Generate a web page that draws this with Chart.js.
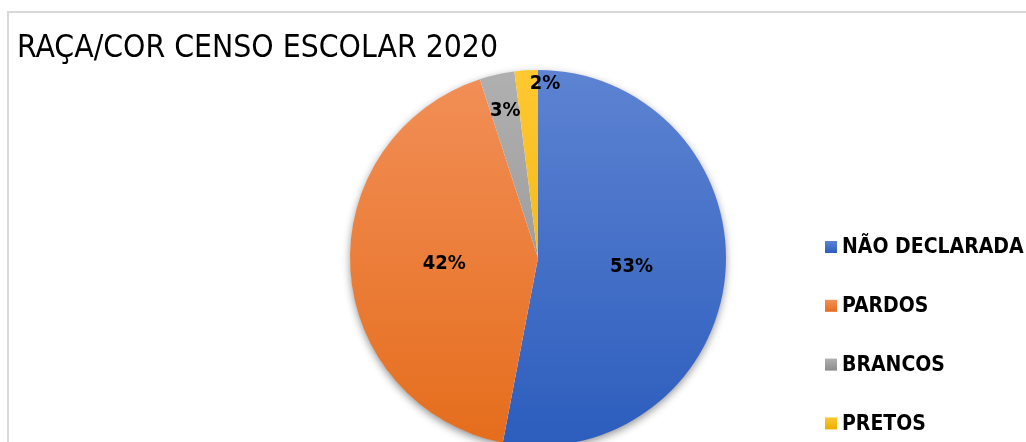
<!DOCTYPE html>
<html>
<head>
<meta charset="utf-8">
<script src="https://cdn.jsdelivr.net/npm/chart.js@4"></script>
<style>
  html, body { margin: 0; padding: 0; background: #fff; overflow: hidden; }
  #frame {
    position: absolute; left: 7px; top: 11px; width: 1030px; height: 450px;
    border-left: 2px solid #d9d9d9; border-top: 2px solid #d9d9d9;
  }
  #wrap { position: absolute; left: 0; top: 0; width: 1026px; height: 460px; }
</style>
</head>
<body>
<div id="frame"></div>
<div id="wrap"><canvas id="pieChart"></canvas></div>
<script>
const TITLE = 'RAÇA/COR CENSO ESCOLAR 2020';
const labels = ['NÃO DECLARADA', 'PARDOS', 'BRANCOS', 'PRETOS'];
const values = [53, 42, 3, 2];

// gradient stops per slice: [top, bottom]
const SHADES = [
    ['#5d83d2', '#2c5dbd'],
    ['#f28f58', '#e56d1c'],
    ['#b0b0b0', '#8c8c8c'],
    ['#ffc832', '#e8ae00']
];
// how far out the percent label sits (fraction of radius) and a sideways nudge
const LABEL_R = [0.5, 0.5, 0.8, 0.93];
const LABEL_DX = [0, 0, 0, 18];

const FONT = "'DejaVu Sans Condensed', 'DejaVu Sans', sans-serif";

function sliceFill(ctx) {
    const area = ctx.chart.chartArea;
    const s = SHADES[ctx.dataIndex];
    if (!area) return s[0];
    const g = ctx.chart.ctx.createLinearGradient(0, area.top, 0, area.bottom);
    g.addColorStop(0, s[0]); g.addColorStop(1, s[1]);
    return g;
}

// soft drop shadow: one shadowed disc under the whole pie
const shadow = {
    id: 'shadow',
    beforeDatasetsDraw(chart) {
        const arc = chart.getDatasetMeta(0).data[0];
        if (!arc) return;
        const c = chart.ctx;
        c.save();
        c.shadowColor = 'rgba(0,0,0,0.45)';
        c.shadowBlur = 9;
        c.shadowOffsetY = 3;
        c.fillStyle = '#fff';
        c.beginPath();
        c.arc(arc.x, arc.y, arc.outerRadius - 0.5, 0, Math.PI * 2);
        c.fill();
        c.restore();
    }
};

// title, percent labels and the side legend
const decor = {
    id: 'decor',
    afterDraw(chart) {
        const c = chart.ctx;
        c.save();
        c.fillStyle = '#000';
        c.textBaseline = 'alphabetic';
        c.textAlign = 'left';
        c.font = '31.6px ' + FONT;
        c.fillText(TITLE, 17, 57);

        const meta = chart.getDatasetMeta(0);
        const total = values.reduce((a, b) => a + b, 0);
        c.font = 'bold 20px ' + FONT;
        c.textAlign = 'center';
        c.textBaseline = 'middle';
        meta.data.forEach((arc, i) => {
            const mid = (arc.startAngle + arc.endAngle) / 2;
            const r = arc.outerRadius * LABEL_R[i];
            const x = arc.x + Math.cos(mid) * r + LABEL_DX[i];
            const y = arc.y + Math.sin(mid) * r;
            c.fillText(Math.round(values[i] / total * 100) + '%', x, y);
        });

        c.font = 'bold 21px ' + FONT;
        c.textAlign = 'left';
        labels.forEach((lab, i) => {
            const y = 241 + i * 58.8;
            const g = c.createLinearGradient(0, y, 0, y + 12);
            g.addColorStop(0, SHADES[i][0]); g.addColorStop(1, SHADES[i][1]);
            c.fillStyle = g;
            c.fillRect(825, y, 12, 12);
            c.fillStyle = '#000';
            c.fillText(lab, 842, y + 7);
        });
        c.restore();
    }
};

new Chart(document.getElementById('pieChart'), {
    type: 'pie',
    data: {
        labels: labels,
        datasets: [{ data: values, backgroundColor: sliceFill, borderWidth: 0 }]
    },
    options: {
        responsive: true,
        maintainAspectRatio: false,
        animation: false,
        layout: { padding: { left: 350, right: 300, top: 70, bottom: 14 } },
        plugins: { legend: { display: false }, tooltip: { enabled: false } }
    },
    plugins: [shadow, decor]
});
</script>
</body>
</html>
